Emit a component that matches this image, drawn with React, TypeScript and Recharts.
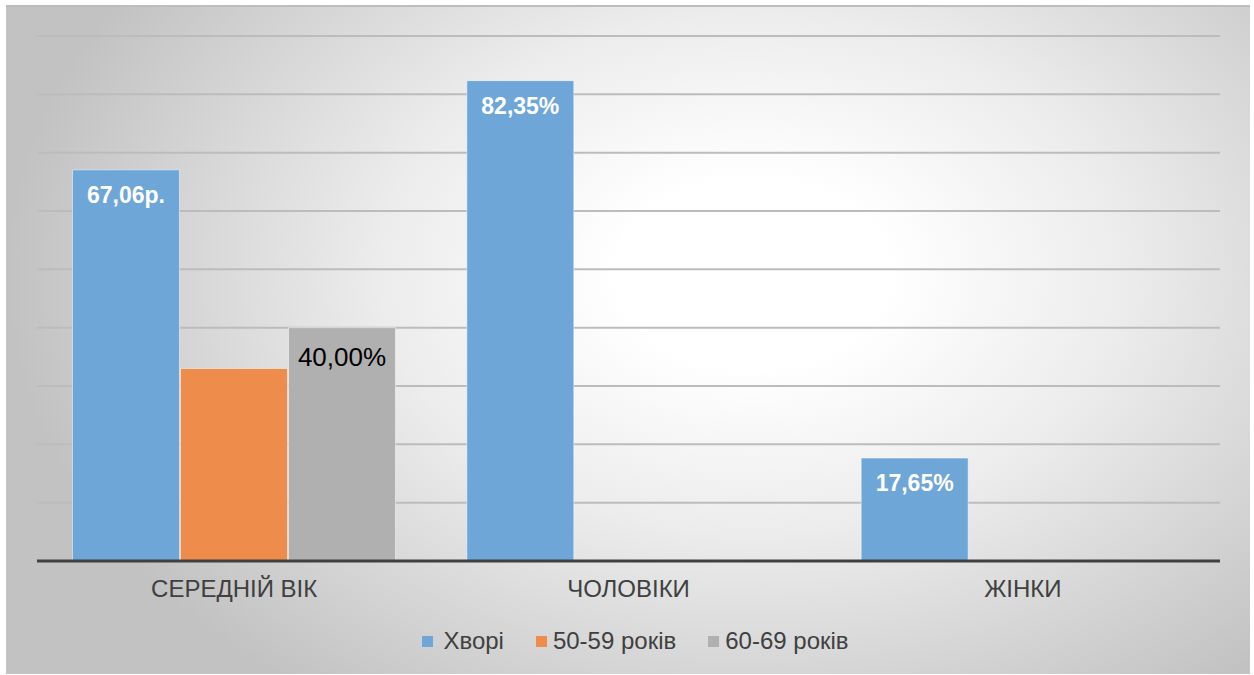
import { Bar, BarChart, CartesianGrid, LabelList, Legend, XAxis, YAxis } from "recharts";

const categories = ["СЕРЕДНІЙ ВІК", "ЧОЛОВІКИ", "ЖІНКИ"];
const patients = [67.06, 82.35, 17.65];
const age50to59 = [33, null, null];
const age60to69 = [40, null, null];
const patientSuffix = ["р.", "%", "%"];
const yTicks = [0, 10, 20, 30, 40, 50, 60, 70, 80, 90];

const series = [
  { key: "patients", name: "Хворі", color: "#6fa6d8" },
  { key: "age50", name: "50-59 років", color: "#ee8d4b" },
  { key: "age60", name: "60-69 років", color: "#b0b0b0" },
];

const data = categories.map((name, i) => ({
  name,
  patients: patients[i],
  age50: age50to59[i],
  age60: age60to69[i],
}));

const FONT = "'Liberation Sans', Arial, sans-serif";

const fmt = (v: number) => v.toFixed(2).replace(".", ",");

const PatientLabel = (props: any) => {
  const { x, y, width, value, index } = props;
  if (value == null) return null;
  return (
    <text
      x={x + width / 2}
      y={y + 25}
      textAnchor="middle"
      dominantBaseline="central"
      fill="#ffffff"
      fontWeight="bold"
      fontSize={23}
      fontFamily={FONT}
    >
      {fmt(value) + patientSuffix[index]}
    </text>
  );
};

const OlderLabel = (props: any) => {
  const { x, y, width, value } = props;
  if (value == null) return null;
  return (
    <text
      x={x + width / 2}
      y={y + 29}
      textAnchor="middle"
      dominantBaseline="central"
      fill="#000000"
      fontSize={26}
      fontFamily={FONT}
    >
      {fmt(value) + "%"}
    </text>
  );
};

const LegendContent = () => (
  <div
    style={{
      height: 50,
      display: "flex",
      justifyContent: "center",
      alignItems: "flex-start",
      paddingTop: 4,
      paddingLeft: 14,
      boxSizing: "border-box",
      fontFamily: FONT,
      fontSize: 24,
      color: "#404040",
      lineHeight: "24px",
    }}
  >
    {series.map((s, i) => (
      <div key={s.key} style={{ display: "flex", alignItems: "center", marginLeft: i ? 32 : 0 }}>
        <span
          style={{
            width: 11,
            height: 11,
            background: s.color,
            display: "inline-block",
            marginRight: i ? 6 : 10,
          }}
        />
        <span>{s.name}</span>
      </div>
    ))}
  </div>
);

export default function App() {
  return (
    <div style={{ position: "absolute", left: 0, top: 0, width: 1254, height: 675, background: "#ffffff" }}>
      <div
        style={{
          position: "absolute",
          left: 6,
          top: 5,
          width: 1244,
          height: 669,
          borderTop: "2px solid #bdbdbd",
          boxSizing: "border-box",
          background:
            "radial-gradient(ellipse 60% 78% at 60% 40%, #ffffff 0%, #ffffff 18%, #ececec 50%, #c2c2c2 100%)",
        }}
      />
      <div style={{ position: "absolute", left: 0, top: 0 }}>
        <BarChart
          width={1254}
          height={675}
          data={data}
          margin={{ top: 36, right: 34, left: 37, bottom: 0 }}
          barCategoryGap="9%"
          barGap={1}
        >
          <CartesianGrid vertical={false} stroke="#bcbcbc" strokeWidth={2} />
          <YAxis hide domain={[0, 90]} ticks={yTicks} />
          <XAxis
            dataKey="name"
            height={64}
            tickLine={false}
            axisLine={{ stroke: "#404040", strokeWidth: 3 }}
            tickMargin={13}
            tick={{ fill: "#404040", fontSize: 24, fontFamily: FONT }}
          />
          <Legend verticalAlign="bottom" height={50} content={<LegendContent />} />
          {series.map((s) => (
            <Bar
              key={s.key}
              dataKey={s.key}
              name={s.name}
              fill={s.color}
              stroke="#ffffff"
              strokeOpacity={0.5}
              strokeWidth={1}
              isAnimationActive={false}
            >
              {s.key === "patients" && <LabelList dataKey={s.key} content={<PatientLabel />} />}
              {s.key === "age60" && <LabelList dataKey={s.key} content={<OlderLabel />} />}
            </Bar>
          ))}
        </BarChart>
      </div>
    </div>
  );
}
